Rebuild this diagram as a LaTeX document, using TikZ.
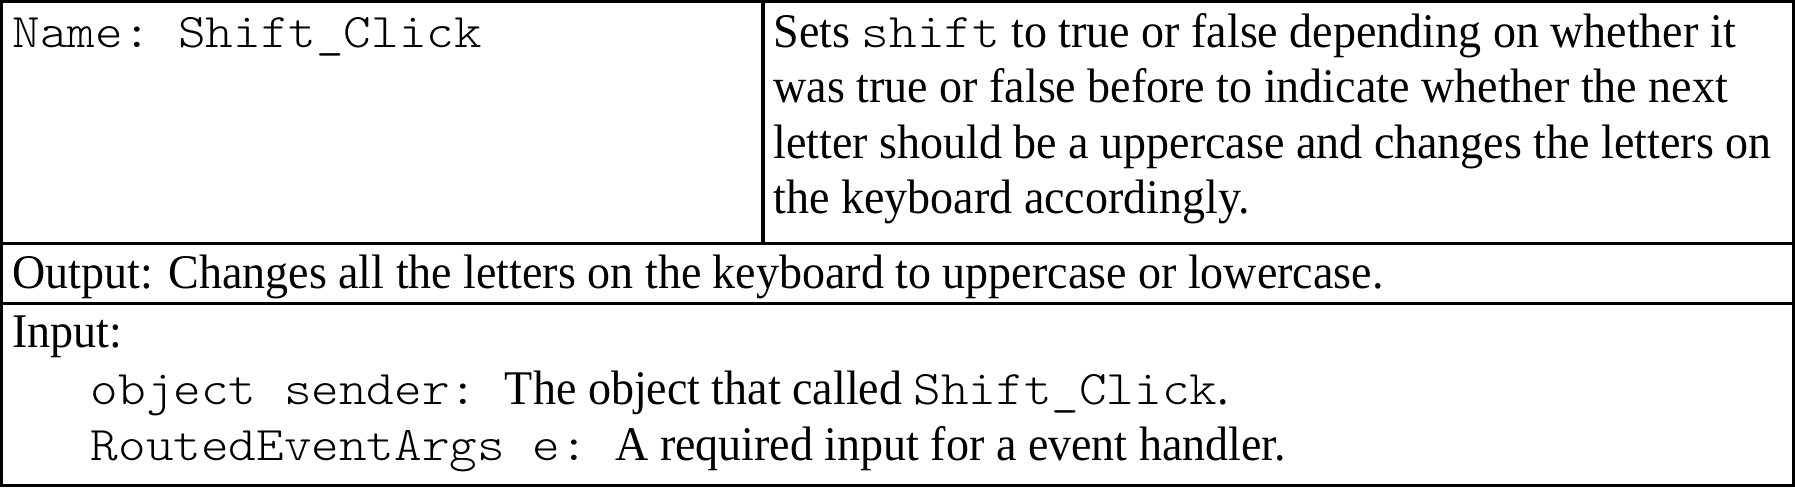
\documentclass[tikz,border=0pt]{standalone}
\usepackage{fontspec}
\setmainfont{Liberation Serif}[FakeStretch=0.952]
\setmonofont{lmmonolt10-regular}[Extension=.otf,FakeStretch=1.088]
\begin{document}
\begin{tikzpicture}[x=1pt,y=1pt,
    cell/.style={line width=0.85pt},
    txt/.style={anchor=base west,inner sep=0pt,font=\fontsize{12.6}{14.4}\selectfont}]
    \fill[white] (0,0) rectangle (468,-127);
    \useasboundingbox (0,0) rectangle (468,-127);

    % table frame
    \draw[cell] (0.45,-0.45) rectangle (467.55,-126.5);
    \draw[cell] (0.45,-63.4) -- (467.55,-63.4);
    \draw[cell] (0.45,-79.1) -- (467.55,-79.1);
    \draw[cell] (198.9,-0.45) -- (198.9,-63.4);

    % name and description
    \node[txt] (name) at (3.1,-12.4) {\texttt{Name: Shift\_Click}};
    \node[txt] (desca) at (201.5,-12.4) {Sets \texttt{shift} to true or false depending on whether it};
    \node[txt] (descb) at (201.5,-26.8) {was true or false before to indicate whether the next};
    \node[txt] (descc) at (201.5,-41.2) {letter should be a uppercase and changes the letters on};
    \node[txt] (descd) at (201.5,-55.6) {the keyboard accordingly.};

    % output
    \node[txt] (output) at (3.1,-75.1) {Output: Changes all the letters on the keyboard to uppercase or lowercase.};

    % input
    \node[txt] (input) at (3.1,-90.7) {Input:};
    \node[txt] (sender) at (23.5,-105.4) {\texttt{object sender:\ }The object that called \texttt{Shift\_Click}.};
    \node[txt] (args) at (23.5,-120.1) {\texttt{RoutedEventArgs e:\ }A required input for a event handler.};
\end{tikzpicture}
\end{document}
